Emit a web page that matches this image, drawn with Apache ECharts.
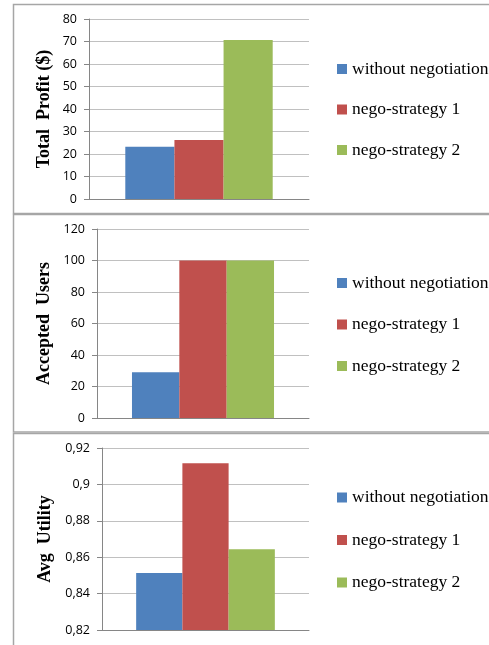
<!DOCTYPE html>
<html>
<head>
<meta charset="utf-8">
<style>
  html, body { margin: 0; padding: 0; background: #ffffff; }
  #chart { width: 489px; height: 645px; }
</style>
<script src="https://cdn.jsdelivr.net/npm/echarts@6/dist/echarts.min.js"></script>
</head>
<body>
<div id="chart"></div>
<script>
// Strategies compared in every panel
const strategies = ['without negotiation', 'nego-strategy 1', 'nego-strategy 2'];
const strategyColors = ['#4F81BD', '#C0504D', '#9BBB59'];

// Values per strategy (same order as strategies)
const totalProfit = [23.2, 26.2, 70.7];
const acceptedUsers = [29, 100, 100];
const avgUtility = [0.8513, 0.9116, 0.8644];

// Panel titles (y-axis names)
const panelTitles = ['Total  Profit ($)', 'Accepted  Users', 'Avg  Utility'];

// Y-axis scales: [min, max, interval]
const profitScale = [0, 80, 10];
const usersScale = [0, 120, 20];
const utilityScale = [0.82, 0.92, 0.02];

const panelValues = [totalProfit, acceptedUsers, avgUtility];
const panelScales = [profitScale, usersScale, utilityScale];

// Layout of each panel: plot rectangle, name gap, legend placement
const panels = [
  { grid: { left: 89, top: 19, width: 220, height: 180 }, nameGap: 36, legendTop: 60, legendGap: 22.5, box: [13, 4, 209] },
  { grid: { left: 97, top: 229, width: 212, height: 189 }, nameGap: 44, legendTop: 274, legendGap: 23.5, box: [13, 214, 217.5] },
  { grid: { left: 102, top: 448, width: 207, height: 182 }, nameGap: 48, legendTop: 488.5, legendGap: 24.5, box: [13, 433, 220] }
];

const serifFont = '"Liberation Serif", "Times New Roman", serif';
const sansFont = '"Open Sans", "Liberation Sans", sans-serif';

function tickText(v, idx) {
  if (idx === 2) {
    return String(parseFloat(v.toFixed(2))).replace('.', ',');
  }
  return String(v);
}

const chart = echarts.init(document.getElementById('chart'), null, { renderer: 'canvas' });

const grids = [], xAxes = [], yAxes = [], legends = [], series = [], graphics = [];

panels.forEach(function (p, i) {
  grids.push(Object.assign({ containLabel: false }, p.grid));
  xAxes.push({
    type: 'category',
    gridIndex: i,
    data: [''],
    axisLine: { show: true, lineStyle: { color: '#868686', width: 1 } },
    axisTick: { show: false },
    axisLabel: { show: false },
    splitLine: { show: false }
  });
  const sc = panelScales[i];
  yAxes.push({
    type: 'value',
    gridIndex: i,
    min: sc[0],
    max: sc[1],
    interval: sc[2],
    name: panelTitles[i],
    nameLocation: 'middle',
    nameGap: p.nameGap,
    nameTextStyle: { fontFamily: serifFont, fontWeight: 'bold', fontSize: 18, color: '#000000' },
    axisLine: { show: true, lineStyle: { color: '#868686', width: 1 } },
    axisTick: { show: true, length: 5, lineStyle: { color: '#868686' } },
    axisLabel: {
      margin: 12,
      fontFamily: sansFont,
      fontSize: 12.5,
      color: '#000000',
      formatter: function (v) { return tickText(v, i); }
    },
    splitLine: { show: true, lineStyle: { color: '#c0c0c0', width: 1 } }
  });
  legends.push({
    orient: 'vertical',
    left: 337,
    top: p.legendTop,
    padding: 0,
    itemWidth: 10,
    itemHeight: 10,
    itemGap: p.legendGap,
    icon: 'rect',
    selectedMode: false,
    data: strategies,
    textStyle: { fontFamily: serifFont, fontSize: 17.5, color: '#000000' }
  });
  strategies.forEach(function (name, k) {
    series.push({
      type: 'bar',
      name: name,
      xAxisIndex: i,
      yAxisIndex: i,
      data: [panelValues[i][k]],
      barGap: '0%',
      barCategoryGap: '33%',
      itemStyle: { color: strategyColors[k] },
      emphasis: { disabled: true },
      animation: false
    });
  });
  graphics.push({
    type: 'rect',
    shape: { x: p.box[0] + 0.5, y: p.box[1] + 0.5, width: 500, height: p.box[2] },
    style: { fill: 'none', stroke: '#a6a6a6', lineWidth: 1.5 },
    z: -1
  });
});

chart.setOption({
  animation: false,
  backgroundColor: '#ffffff',
  grid: grids,
  xAxis: xAxes,
  yAxis: yAxes,
  legend: legends,
  series: series,
  graphic: graphics
});
</script>
</body>
</html>
